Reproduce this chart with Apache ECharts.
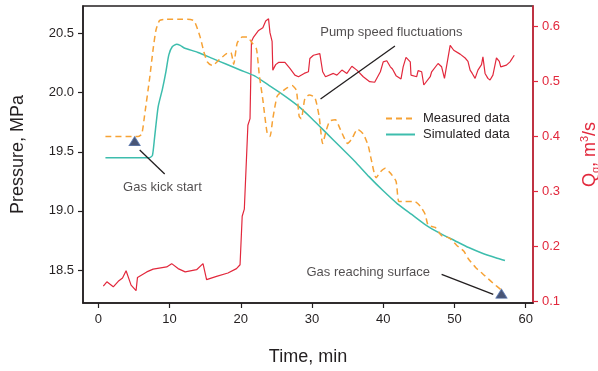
<!DOCTYPE html>
<html>
<head>
<meta charset="utf-8">
<script src="https://cdn.jsdelivr.net/npm/echarts@6/dist/echarts.min.js"></script>
<style>
html,body{margin:0;padding:0;background:#fff}
#chart{width:598px;height:371px}
</style>
</head>
<body>
<div id="chart"></div>
<script>
// Time axis, min
var timeTicks = [0, 10, 20, 30, 40, 50, 60];
var pressureTicks = [18.5, 19.0, 19.5, 20.0, 20.5];
var flowTicks = [0.1, 0.2, 0.3, 0.4, 0.5, 0.6];

// Measured bottom-hole pressure, MPa
var measTime = [1.0, 5.6, 6.1, 6.5, 7.2, 7.7, 8.1, 8.6, 9.3, 10.5, 11.5, 12.5, 13.4, 13.8, 14.3, 14.8, 15.3, 16.0, 17.0, 18.0, 18.6, 19.0, 19.5, 20.2, 20.9, 21.6, 22.2, 22.6, 23.1, 23.7, 24.1, 24.5, 25.1, 25.6, 26.5, 27.2, 27.8, 28.2, 28.5, 29.0, 29.6, 30.4, 31.0, 31.5, 32.0, 32.5, 33.3, 33.9, 34.5, 35.0, 35.6, 36.4, 37.2, 37.9, 38.3, 39.0, 39.6, 40.3, 41.0, 41.8, 42.2, 43.0, 44.4, 45.2, 45.9, 46.3, 47.3, 48.2, 49.3, 50.3, 51.3, 51.9, 53.0, 54.3, 55.4, 56.6];
var measPressure = [19.63, 19.63, 19.65, 19.81, 20.12, 20.37, 20.53, 20.61, 20.62, 20.62, 20.62, 20.62, 20.61, 20.56, 20.47, 20.35, 20.26, 20.23, 20.28, 20.33, 20.34, 20.24, 20.42, 20.47, 20.47, 20.42, 20.37, 20.15, 19.94, 19.66, 19.63, 19.78, 19.97, 20.00, 20.04, 20.06, 20.02, 19.80, 19.78, 19.95, 19.98, 19.96, 19.80, 19.57, 19.68, 19.76, 19.77, 19.70, 19.62, 19.57, 19.61, 19.69, 19.65, 19.55, 19.44, 19.28, 19.33, 19.36, 19.32, 19.25, 19.08, 19.08, 19.08, 19.04, 18.97, 18.88, 18.86, 18.79, 18.77, 18.71, 18.66, 18.60, 18.52, 18.45, 18.39, 18.33];

// Simulated bottom-hole pressure, MPa
var simTime = [1, 7.2, 7.6, 7.9, 8.4, 9.0, 9.5, 9.9, 10.4, 11.0, 11.5, 12, 14, 16, 18, 20, 22, 24, 26, 28, 30, 32, 34, 36, 38, 40, 42, 44, 46, 48, 50, 52, 54, 56, 57.1];
var simPressure = [19.45, 19.45, 19.47, 19.62, 19.88, 20.03, 20.18, 20.32, 20.39, 20.41, 20.40, 20.38, 20.34, 20.29, 20.24, 20.19, 20.14, 20.06, 19.98, 19.89, 19.78, 19.66, 19.54, 19.42, 19.29, 19.17, 19.06, 18.97, 18.88, 18.81, 18.75, 18.69, 18.64, 18.60, 18.58];

// Gas flow rate Qg, m3/s
var flowTime = [0.7, 1.2, 2.1, 2.8, 3.4, 3.9, 4.6, 5.3, 5.5, 6.8, 7.7, 9.6, 10.3, 11.2, 12.2, 13.8, 14.7, 15.2, 16.6, 18.2, 19.4, 19.9, 20.2, 20.5, 21.0, 21.3, 21.5, 21.8, 22.5, 23.1, 23.5, 23.9, 24.1, 24.4, 24.5, 24.9, 25.3, 26.2, 26.9, 27.6, 28.1, 28.9, 29.5, 29.7, 30.2, 31.1, 31.5, 31.9, 33.0, 33.5, 34.2, 34.9, 35.6, 36.3, 37.2, 38.1, 38.8, 39.6, 40.0, 40.5, 41.0, 41.3, 41.8, 42.5, 42.8, 43.2, 43.8, 43.9, 44.7, 44.9, 45.4, 45.7, 46.6, 46.8, 47.7, 48.2, 48.6, 49.4, 49.9, 50.8, 51.5, 51.9, 52.2, 52.5, 52.9, 53.3, 53.8, 54.0, 54.3, 54.7, 55.0, 55.4, 55.9, 56.3, 56.5, 57.3, 57.8, 58.4];
var flowRate = [0.128, 0.136, 0.127, 0.137, 0.143, 0.156, 0.130, 0.120, 0.144, 0.154, 0.159, 0.163, 0.169, 0.160, 0.154, 0.158, 0.169, 0.140, 0.146, 0.152, 0.160, 0.167, 0.255, 0.268, 0.420, 0.432, 0.572, 0.580, 0.592, 0.597, 0.609, 0.613, 0.588, 0.572, 0.520, 0.530, 0.534, 0.534, 0.523, 0.511, 0.508, 0.514, 0.517, 0.541, 0.547, 0.550, 0.517, 0.508, 0.514, 0.511, 0.520, 0.514, 0.527, 0.520, 0.508, 0.499, 0.498, 0.517, 0.535, 0.537, 0.526, 0.522, 0.510, 0.504, 0.526, 0.543, 0.535, 0.511, 0.508, 0.519, 0.517, 0.493, 0.508, 0.517, 0.532, 0.526, 0.505, 0.565, 0.556, 0.549, 0.542, 0.536, 0.520, 0.514, 0.505, 0.520, 0.530, 0.544, 0.514, 0.505, 0.502, 0.511, 0.542, 0.536, 0.526, 0.529, 0.535, 0.547];

// Event markers (kick start, gas at surface)
var eventTime = [5.1, 56.6];
var eventPressure = [19.59, 18.30];

// Annotation texts, anchors and arrows (time, pressure)
var noteText = ['Pump speed fluctuations', 'Gas kick start', 'Gas reaching surface'];
var noteTime = [41.15, 9.0, 37.9];
var notePressure = [20.513, 19.20, 18.48];
var arrowFrom = [[31.2, 19.946], [5.81, 19.515], [55.45, 18.294]];
var arrowTo = [[41.65, 20.394], [9.32, 19.312], [48.2, 18.463]];

var TEXT = '#231f20';
var RED = '#e2283c';
var ORANGE = '#f6a235';
var TEAL = '#3dbdad';
var FONT = '"Liberation Sans", Arial, sans-serif';

function zip(a, b) { return a.map(function (v, i) { return [v, b[i]]; }); }

var chart = echarts.init(document.getElementById('chart'), null, { renderer: 'canvas' });

chart.setOption({
  animation: false,
  backgroundColor: '#fff',
  textStyle: { fontFamily: FONT },
  grid: {
    left: 83, right: 65, top: 6, bottom: 68,
    containLabel: false,
    outerBoundsMode: 'none',
    show: true, borderColor: TEXT, borderWidth: 1.5, backgroundColor: 'transparent'
  },
  legend: {
    orient: 'vertical',
    left: 380, top: 107,
    itemWidth: 29, itemHeight: 14, itemGap: 3,
    itemStyle: { opacity: 0 },
    data: ['Measured data', 'Simulated data'],
    textStyle: { color: TEXT, fontSize: 13, fontFamily: FONT, padding: [0, 0, 0, 3] }
  },
  xAxis: {
    type: 'value',
    min: -2.15, max: 61.03,
    name: 'Time, min',
    nameLocation: 'middle',
    nameGap: 45,
    nameTextStyle: { color: TEXT, fontSize: 18, fontFamily: FONT },
    axisLine: { show: true, onZero: false, lineStyle: { color: TEXT, width: 1.5 } },
    axisTick: { show: true, length: 5, customValues: timeTicks, lineStyle: { color: TEXT, width: 1.2 } },
    axisLabel: { customValues: timeTicks, color: TEXT, fontSize: 13, margin: 10, fontFamily: FONT },
    splitLine: { show: false }
  },
  yAxis: [
    {
      type: 'value',
      min: 18.221, max: 20.733,
      name: 'Pressure, MPa',
      nameLocation: 'middle',
      nameGap: 56,
      nameRotate: 90,
      nameTextStyle: { color: TEXT, fontSize: 18, fontFamily: FONT },
      axisLine: { show: true, onZero: false, lineStyle: { color: TEXT, width: 1.5 } },
      axisTick: { show: true, length: 5, customValues: pressureTicks, lineStyle: { color: TEXT, width: 1.2 } },
      axisLabel: {
        customValues: pressureTicks, color: TEXT, fontSize: 13, margin: 9, fontFamily: FONT,
        formatter: function (v) { return v.toFixed(1); }
      },
      splitLine: { show: false }
    },
    {
      type: 'value',
      position: 'right',
      min: 0.0976, max: 0.6363,
      name: '{q|Q}{sub|g}{q|, m}{sup|3}{q|/s}',
      nameLocation: 'middle',
      nameGap: 46,
      nameRotate: 90,
      nameTextStyle: {
        color: RED, fontSize: 18, fontFamily: FONT,
        rich: {
          q: { color: RED, fontSize: 18, lineHeight: 22, fontFamily: FONT },
          sub: { color: RED, fontSize: 11, lineHeight: 22, fontFamily: FONT, verticalAlign: 'bottom' },
          sup: { color: RED, fontSize: 11, lineHeight: 22, fontFamily: FONT, verticalAlign: 'top' }
        }
      },
      axisLine: { show: true, onZero: false, lineStyle: { color: RED, width: 1.5 } },
      axisTick: { show: true, length: 5, customValues: flowTicks, lineStyle: { color: RED, width: 1.2 } },
      axisLabel: {
        customValues: flowTicks, color: RED, fontSize: 13, margin: 9, fontFamily: FONT,
        formatter: function (v) { return v.toFixed(1); }
      },
      splitLine: { show: false }
    }
  ],
  series: [
    {
      name: 'Qg',
      type: 'line',
      yAxisIndex: 1,
      data: zip(flowTime, flowRate),
      symbol: 'none',
      lineStyle: { color: RED, width: 1.2 },
      z: 2
    },
    {
      name: 'Simulated data',
      type: 'line',
      data: zip(simTime, simPressure),
      symbol: 'none',
      smooth: 0.2,
      itemStyle: { color: TEAL },
      lineStyle: { color: TEAL, width: 1.5 },
      z: 3
    },
    {
      name: 'Measured data',
      type: 'line',
      data: zip(measTime, measPressure),
      symbol: 'none',
      smooth: 0.2,
      itemStyle: { color: ORANGE },
      lineStyle: { color: ORANGE, width: 1.5, type: [6, 4] },
      z: 4
    },
    {
      name: 'events',
      type: 'scatter',
      data: zip(eventTime, eventPressure),
      symbol: 'triangle',
      symbolSize: [11, 9],
      itemStyle: { color: '#1b2a52', borderColor: '#4a6aa8', borderWidth: 1 },
      z: 6
    },
    {
      name: 'notes',
      type: 'scatter',
      symbolSize: 0,
      silent: true,
      data: noteText.map(function (t, i) { return { name: t, value: [noteTime[i], notePressure[i]] }; }),
      label: {
        show: true, position: 'inside', formatter: '{b}',
        color: TEXT, fontSize: 13, fontFamily: FONT
      },
      markLine: {
        silent: true,
        symbol: ['none', 'arrow'],
        symbolSize: [0, 8],
        label: { show: false },
        lineStyle: { color: TEXT, width: 1.3, type: 'solid' },
        data: arrowFrom.map(function (p, i) { return [{ coord: p }, { coord: arrowTo[i] }]; })
      },
      z: 7
    }
  ]
});
</script>
</body>
</html>
